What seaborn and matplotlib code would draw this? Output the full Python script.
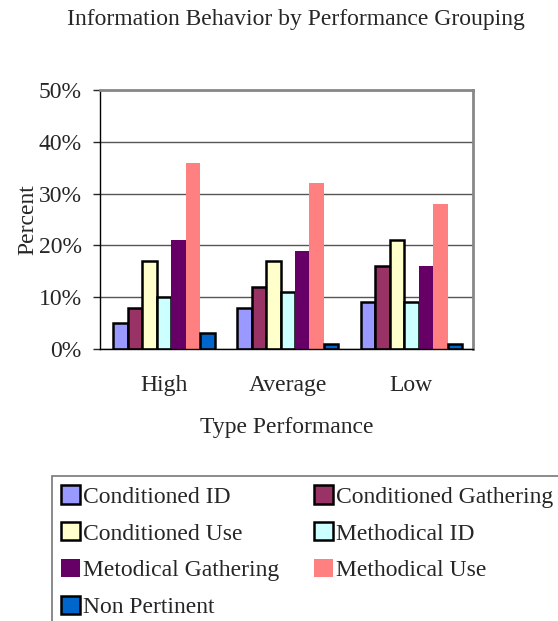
import pandas as pd
import matplotlib.pyplot as plt
import seaborn as sns
from matplotlib.patches import Patch
from matplotlib.ticker import PercentFormatter, FixedLocator

# Data (percent)
groups = ["High", "Average", "Low"]
behaviors = ["Conditioned ID", "Conditioned Gathering", "Conditioned Use",
             "Methodical ID", "Metodical Gathering", "Methodical Use", "Non Pertinent"]
high = [5, 8, 17, 10, 21, 36, 3]
average = [8, 12, 17, 11, 19, 32, 1]
low = [9, 16, 21, 9, 16, 28, 1]

colors = ["#9999FF", "#993366", "#FFFFCC", "#CCFFFF", "#660066", "#FF8080", "#0066CC"]
edged = [True, True, True, True, False, False, True]

rows = []
for g, vals in zip(groups, [high, average, low]):
    for b, v in zip(behaviors, vals):
        rows.append({"group": g, "behavior": b, "value": v})
df = pd.DataFrame(rows)

sns.set_style("white")
plt.rcParams["font.family"] = ["Liberation Serif", "DejaVu Serif"]

fig = plt.figure(figsize=(5.58, 6.21), dpi=100)
ax = fig.add_axes([0.179, 0.438, 0.669, 0.417])

sns.barplot(data=df, x="group", y="value", hue="behavior", order=groups,
            hue_order=behaviors, palette=colors, width=0.82, gap=0,
            saturation=1, errorbar=None, legend=False, ax=ax)

for cont, e in zip(ax.containers, edged):
    for bar in cont:
        if e:
            bar.set_edgecolor("black")
            bar.set_linewidth(1.8)
        else:
            bar.set_linewidth(0)

ax.set_ylim(0, 50)
ax.set_xlim(-0.52, 2.5)
ax.yaxis.set_major_formatter(PercentFormatter(decimals=0))
ax.set_yticks([0, 10, 20, 30, 40, 50])
ax.grid(axis="y", color="#555555", linewidth=1)
ax.set_axisbelow(True)

ax.xaxis.set_minor_locator(FixedLocator([-0.52, 0.5, 1.5, 2.5]))
ax.tick_params(axis="x", which="major", length=0, pad=19, labelsize=17)
ax.tick_params(axis="x", which="minor", direction="out", length=6, width=1, color="#555555")
ax.tick_params(axis="y", direction="out", length=5, width=1, labelsize=17, pad=8)
ax.yaxis.set_ticks_position("left")

for s in ["top", "right"]:
    ax.spines[s].set_color("#888888")
    ax.spines[s].set_linewidth(2)
for s in ["left", "bottom"]:
    ax.spines[s].set_color("black")
    ax.spines[s].set_linewidth(1)

ax.set_xlabel("Type Performance", fontsize=17, labelpad=15)
ax.set_ylabel("Percent", fontsize=17, labelpad=0)
fig.text(0.53, 0.968, "Information Behavior by Performance Grouping",
         ha="center", va="center", fontsize=17)

handles = [Patch(facecolor=c, edgecolor="black" if e else c, linewidth=1.8 if e else 0)
           for c, e in zip(colors, edged)]
order = [0, 2, 4, 6, 1, 3, 5]
leg = fig.legend([handles[i] for i in order], [behaviors[i] for i in order],
                 ncol=2, loc="upper left", bbox_to_anchor=(0.093, 1 - 476 / 621),
                 fontsize=17, frameon=True, fancybox=False, handlelength=0.8,
                 handleheight=0.8, handletextpad=0.1, columnspacing=1.5,
                 labelspacing=0.62, borderpad=0.4, borderaxespad=0)
leg.get_frame().set_edgecolor("#555555")
leg.get_frame().set_linewidth(1.2)

fig.savefig("out.png", dpi=100)
